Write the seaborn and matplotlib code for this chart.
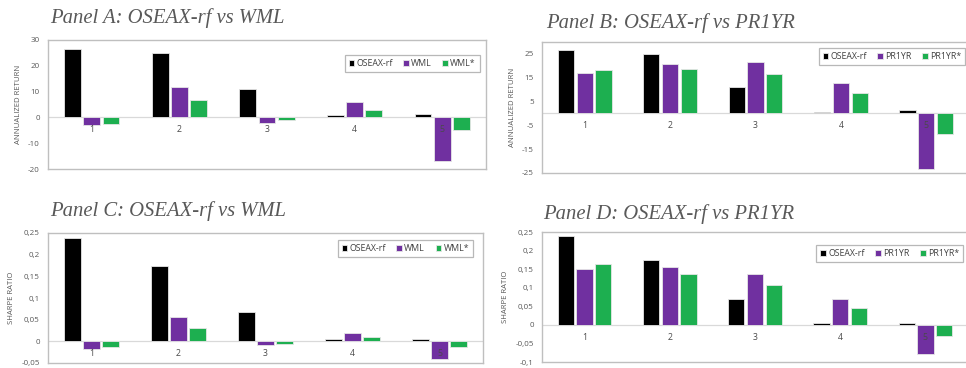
import matplotlib
matplotlib.use("Agg")
import matplotlib.pyplot as plt
import seaborn as sns
import pandas as pd

# Portfolio groups
groups = ["1", "2", "3", "4", "5"]

# Annualized returns (%)
ret_market = [26.5, 24.8, 11.2, 0.8, 1.5]
ret_wml = [-2.9, 11.9, -2.1, 5.9, -16.8]
ret_wml_star = [-2.4, 6.7, -1.2, 2.7, -4.7]
ret_pr1yr = [16.9, 20.8, 21.5, 12.8, -23.3]
ret_pr1yr_star = [18.4, 18.7, 16.4, 8.4, -8.8]

# Sharpe ratios
sr_market = [0.238, 0.173, 0.067, 0.005, 0.005]
sr_wml = [-0.017, 0.056, -0.009, 0.019, -0.040]
sr_wml_star = [-0.013, 0.031, -0.007, 0.010, -0.012]
sr_market_d = [0.239, 0.174, 0.069, 0.004, 0.005]
sr_pr1yr = [0.150, 0.155, 0.137, 0.069, -0.079]
sr_pr1yr_star = [0.164, 0.137, 0.107, 0.046, -0.031]

ret_ticks = [-20, -10, 0, 10, 20, 30]
ret_ticks_b = [-25, -15, -5, 5, 15, 25]
sr_ticks_c = [-0.05, 0, 0.05, 0.1, 0.15, 0.2, 0.25]
sr_ticks_d = [-0.1, -0.05, 0, 0.05, 0.1, 0.15, 0.2, 0.25]

sns.set_theme(style="white")
plt.rcParams["font.family"] = ["Open Sans", "DejaVu Sans"]

COLORS = ["#000000", "#7030A0", "#1DAF50"]
GRAY = "#595959"

W, H = 966, 368
fig = plt.figure(figsize=(W / 100, H / 100), dpi=100)
fig.patch.set_facecolor("white")


def px_axes(left, right, top, bottom):
    return fig.add_axes([left / W, 1 - bottom / H, (right - left) / W, (bottom - top) / H])


def fmt(v):
    return ("%g" % v).replace(".", ",")


def panel(ax, names, series, ylim, yticks, ylabel, legend_anchor, title, title_xy):
    rows = []
    for name, vals in zip(names, series):
        for g, v in zip(groups, vals):
            rows.append({"group": g, "series": name, "value": v})
    df = pd.DataFrame(rows)
    sns.barplot(data=df, x="group", y="value", hue="series", hue_order=names,
                order=groups, palette=COLORS, width=0.66, gap=0.13,
                edgecolor="#E6E6E6", linewidth=0.6, saturation=1, ax=ax,
                errorbar=None, zorder=3)
    ax.set_xlim(-0.5, 4.5)
    ax.set_ylim(*ylim)
    ax.set_yticks(yticks)
    ax.set_yticklabels([fmt(t) for t in yticks], fontsize=5.8, color=GRAY)
    ax.tick_params(axis="y", length=0, pad=6)
    ax.set_xticks([])
    ax.set_xlabel("")
    ax.set_ylabel(ylabel, fontsize=5.6, color=GRAY, labelpad=4.5)
    ax.axhline(0, color="#D9D9D9", lw=0.9, zorder=2)
    for sp in ax.spines.values():
        sp.set_visible(True)
        sp.set_color("#BFBFBF")
        sp.set_linewidth(1.0)
    # category labels sit just under the zero line, on top of the bars
    for i, g in enumerate(groups):
        ax.annotate(g, xy=(i, 0), xytext=(0, -5.6), textcoords="offset points",
                    ha="center", va="top", fontsize=6.3, color="#4A4A4A", zorder=10)
    handles, labels = ax.get_legend_handles_labels()
    if ax.get_legend() is not None:
        ax.get_legend().remove()
    leg = ax.legend(handles, labels, loc="upper right", bbox_to_anchor=legend_anchor,
                    ncol=3, fontsize=6.3, frameon=True, fancybox=False,
                    handlelength=0.65, handleheight=0.65, handletextpad=0.25,
                    columnspacing=1.2, borderpad=0.45, borderaxespad=0)
    leg.get_frame().set_edgecolor("#A6A6A6")
    leg.get_frame().set_linewidth(0.9)
    for t in leg.get_texts():
        t.set_color("#404040")
    fig.text(title_xy[0] / W, 1 - title_xy[1] / H, title, fontsize=14.9,
             family="Liberation Serif", style="italic", color="#595959",
             ha="left", va="center")


axA = px_axes(48, 486, 40, 169)
panel(axA, ["OSEAX-rf", "WML", "WML*"], [ret_market, ret_wml, ret_wml_star],
      (-20, 30), ret_ticks, "ANNUALIZED RETURN", (0.986, 0.884),
      "Panel A: OSEAX-rf vs WML", (50, 18))

axB = px_axes(542, 969, 42, 173)
panel(axB, ["OSEAX-rf", "PR1YR", "PR1YR*"], [ret_market, ret_pr1yr, ret_pr1yr_star],
      (-25, 30), ret_ticks_b, "ANNUALIZED RETURN", (0.991, 0.954),
      "Panel B: OSEAX-rf vs PR1YR", (546, 23))

axC = px_axes(48, 483, 233, 363)
panel(axC, ["OSEAX-rf", "WML", "WML*"], [sr_market, sr_wml, sr_wml_star],
      (-0.05, 0.25), sr_ticks_c, "SHARPE RATIO", (0.977, 0.946),
      "Panel C: OSEAX-rf vs WML", (50, 211))

axD = px_axes(542, 968, 232, 362)
panel(axD, ["OSEAX-rf", "PR1YR", "PR1YR*"], [sr_market_d, sr_pr1yr, sr_pr1yr_star],
      (-0.1, 0.25), sr_ticks_d, "SHARPE RATIO", (0.988, 0.90),
      "Panel D: OSEAX-rf vs PR1YR", (543, 214))

fig.savefig("out.png", dpi=100, facecolor="white")
